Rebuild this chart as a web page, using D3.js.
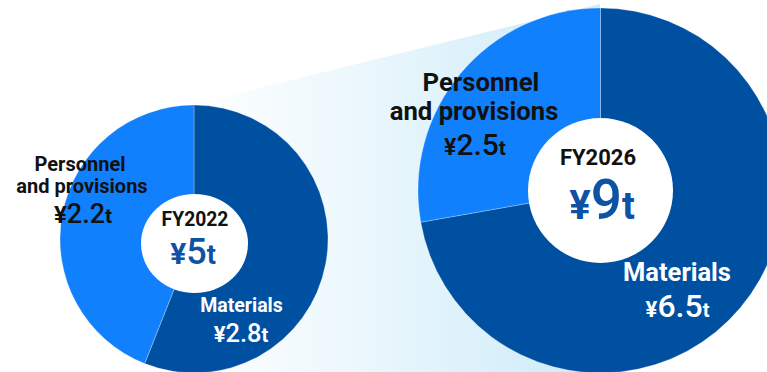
<!DOCTYPE html>
<html>
<head>
<meta charset="utf-8">
<script src="https://cdn.jsdelivr.net/npm/d3@7"></script>
<style>
  html, body { margin: 0; padding: 0; background: #ffffff; }
  svg { display: block; }
  text { font-family: Roboto, "Noto Sans", sans-serif; font-weight: 700; }
</style>
</head>
<body>
<div id="chart"></div>
<script>
// Cost breakdown, trillion yen
const categories = ["Materials", "Personnel and provisions"];
const years = ["FY2022", "FY2026"];
const valuesFY2022 = [2.8, 2.2];
const valuesFY2026 = [6.5, 2.5];
const totals = [5, 9];

const W = 767, H = 372;
const colors = d3.scaleOrdinal().domain(categories).range(["#0050a2", "#1080fd"]);

const svg = d3.select("#chart").append("svg")
  .attr("width", W).attr("height", H);

// Background band linking the two years
const defs = svg.append("defs");
const grad = defs.append("linearGradient")
  .attr("id", "band").attr("gradientUnits", "userSpaceOnUse")
  .attr("x1", 194).attr("y1", 0).attr("x2", 600).attr("y2", 0);
grad.append("stop").attr("offset", 0).attr("stop-color", "#ffffff");
grad.append("stop").attr("offset", 1).attr("stop-color", "#cdebf9");

svg.append("path")
  .attr("d", "M194,104 L600,4 L600,372 L194,372 Z")
  .attr("fill", "url(#band)");

const pie = d3.pie().sort(null).value(d => d).startAngle(0).endAngle(2 * Math.PI);

const donuts = [
  { values: valuesFY2022, cx: 194, cy: 239, r: 134,
    hole: { cx: 194.5, cy: 243.5, rx: 53.5, ry: 49.5 } },
  { values: valuesFY2026, cx: 600.5, cy: 190.5, r: 182.5,
    hole: { cx: 600.5, cy: 190.5, rx: 72.5, ry: 72.5 } }
];

donuts.forEach(dn => {
  const arc = d3.arc().innerRadius(0).outerRadius(dn.r);
  const g = svg.append("g").attr("transform", `translate(${dn.cx},${dn.cy})`);
  g.selectAll("path").data(pie(dn.values)).join("path")
    .attr("d", arc)
    .attr("fill", (d, i) => colors(categories[i]))
    .attr("stroke", "rgba(255,255,255,0.45)")
    .attr("stroke-width", 0.6);
  svg.append("ellipse")
    .attr("cx", dn.hole.cx).attr("cy", dn.hole.cy)
    .attr("rx", dn.hole.rx).attr("ry", dn.hole.ry)
    .attr("fill", "#ffffff");
});

// Amount label: yen sign, number, "t" in three sizes
function amount(x, y, v, sizes, fill) {
  const t = svg.append("text").attr("x", x).attr("y", y)
    .attr("text-anchor", "middle").attr("fill", fill);
  t.append("tspan").attr("font-size", sizes[0]).text("¥");
  t.append("tspan").attr("font-size", sizes[1]).attr("font-weight", 500).text(v);
  t.append("tspan").attr("font-size", sizes[2]).text("t");
  return t;
}
function label(x, y, s, size, fill) {
  return svg.append("text").attr("x", x).attr("y", y)
    .attr("text-anchor", "middle").attr("font-size", size)
    .attr("fill", fill).text(s);
}

// FY2022
label(80, 171, "Personnel", 20, "#111");
label(82, 193, "and provisions", 20, "#111");
amount(83, 223, valuesFY2022[1], [24, 27, 21], "#111");
label(195, 226, years[0], 19.3, "#111");
amount(193, 264, totals[0], [30, 36, 27], "#0d52a5");
label(241.5, 312, categories[0], 19.5, "#ffffff");
amount(241, 342, valuesFY2022[0], [22, 25.5, 20], "#ffffff");

// FY2026
label(481, 91, "Personnel", 25.7, "#111");
label(474, 120, "and provisions", 25.7, "#111");
amount(475, 155, valuesFY2026[1], [23, 30, 21], "#111");
label(598, 165, years[1], 22, "#111");
amount(602, 219, totals[1], [40, 55, 38], "#0d52a5");
label(677, 281, categories[0], 25.5, "#ffffff");
amount(677.5, 317, valuesFY2026[0], [22, 32, 20], "#ffffff");
</script>
</body>
</html>
